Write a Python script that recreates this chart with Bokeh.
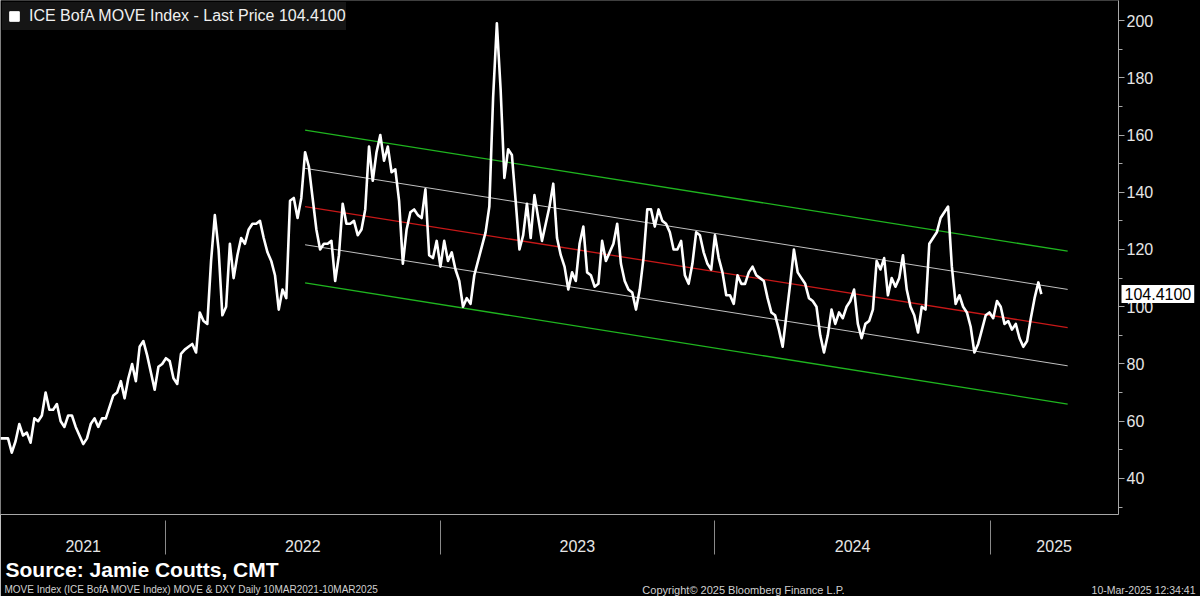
import pandas as pd
from bokeh.plotting import figure
from bokeh.models import (Range1d, LinearAxis, FixedTicker, SingleIntervalTicker,
                          Legend, LegendItem, Label)
from bokeh.embed import file_html
from bokeh.resources import INLINE

# ---------------- data ----------------
series_name = "ICE BofA MOVE Index - Last Price 104.4100"
start_date = "2021-05-26"
last_date = "2025-03-10"
last_price = 104.41

# MOVE index, one reading every 5 days
move_5d = [
    54, 54, 54, 49, 53, 59, 55, 56, 52.5, 61,
    60, 62, 70, 64, 64, 66, 60, 58, 62, 62,
    58, 55, 52, 54, 59, 61, 58, 61, 61, 65,
    69, 70, 74, 68, 75, 80, 74, 86, 88, 83,
    77, 71, 79, 80, 82, 81, 75, 73, 83.5, 85,
    86, 87, 84, 98, 95, 94, 116, 132, 120, 97,
    100, 122, 110, 118, 124, 122, 127, 129, 129, 130,
    124, 119, 116, 111, 99, 106, 103, 137, 138, 131,
    138, 154, 149, 138, 127, 120, 122, 122, 123, 109,
    118, 136, 129, 129, 130, 125, 127, 134, 156, 144,
    154, 160, 151, 156, 147, 148, 137, 115, 127, 133,
    134, 132, 131, 141, 118, 117, 123, 114, 123, 116,
    119, 113, 109, 100, 103, 101, 111, 116, 121, 126,
    135, 173, 199, 176, 145, 155, 153, 137, 120, 125,
    136, 124, 139, 131, 123, 129, 135, 143, 124, 118,
    114, 106, 112, 109, 122, 128, 112, 111, 107, 108,
    123, 116, 119, 122, 129, 115, 109, 106, 105, 99,
    106, 117, 134, 134, 128, 134, 130, 129, 126, 120,
    120, 123, 111, 108, 115, 126, 125, 119, 115, 113,
    125, 117, 112, 104, 104, 101, 111, 108, 108, 112,
    114, 111, 110, 109, 103, 98, 97, 92, 86, 97,
    108, 120, 112, 110, 108, 103, 102, 100, 90, 84,
    90, 99, 94, 98, 96, 100, 102, 106, 94, 89,
    94, 95, 99, 116, 113, 117, 104, 110, 107, 110,
    118, 106, 100, 97, 91, 100, 99, 122, 124, 126,
    131, 133, 135, 114, 101, 104, 100, 98, 93, 84,
    87, 92, 97, 98, 96, 102, 100, 94, 95, 92,
    94, 89, 86, 88, 96, 103, 108.5,
]
move_dates = list(pd.date_range(start_date, periods=len(move_5d), freq="5D")) + [pd.Timestamp(last_date)]
move_values = move_5d + [last_price]

# regression channel
channel_dates = [pd.Timestamp("2022-07-05"), pd.Timestamp("2025-04-14")]
channel_mid = [135.0, 92.7]
channel_sigma = 13.35

# axes
view_start = pd.Timestamp("2021-05-26")
view_end = pd.Timestamp("2025-06-20 14:00")
y_min, y_max = 27.4, 207.0
year_bounds = ["2022-01-01", "2023-01-01", "2024-01-01", "2025-01-01"]
year_labels = ["2021", "2022", "2023", "2024", "2025"]
year_label_pos = ["2021-09-13", "2022-07-02", "2023-07-02", "2024-07-02", "2025-03-27"]

# footer texts
source_text = "Source: Jamie Coutts, CMT"
footer_left = "MOVE Index (ICE BofA MOVE Index) MOVE & DXY  Daily 10MAR2021-10MAR2025"
footer_mid = "Copyright\u00a9 2025 Bloomberg Finance L.P."
footer_right = "10-Mar-2025 12:34:41"

FONT = "Liberation Sans"
HIDDEN_TOP = 120   # side panel above the frame that holds the free-floating labels


def ms(d):
    return int(pd.Timestamp(d).value // 10**6)


p = figure(width=1200, height=596 + HIDDEN_TOP,
           x_range=Range1d(view_start, view_end),
           y_range=Range1d(y_min, y_max),
           x_axis_location=None, y_axis_location=None,
           toolbar_location=None, output_backend="svg",
           background_fill_color="black", border_fill_color="black",
           outline_line_color=None,
           min_border_left=0, min_border_top=HIDDEN_TOP,
           min_border_right=82, min_border_bottom=82,
           margin=(-HIDDEN_TOP, 0, 0, 0))
p.xgrid.grid_line_color = None
p.ygrid.grid_line_color = None

# right axis
yaxis = LinearAxis(ticker=SingleIntervalTicker(interval=20, num_minor_ticks=2),
                   axis_line_color="#a8a8a8", axis_line_width=1,
                   major_tick_line_color="#a8a8a8", major_tick_in=0, major_tick_out=6,
                   minor_tick_line_color="#a8a8a8", minor_tick_in=0, minor_tick_out=4,
                   major_label_text_color="#e6e6e6", major_label_text_font=FONT,
                   major_label_text_font_size="16px", major_label_standoff=2)
p.add_layout(yaxis, "right")

# bottom axis: year labels centred, separators as minor ticks
xaxis = LinearAxis(ticker=FixedTicker(ticks=[ms(d) for d in year_label_pos],
                                      minor_ticks=[ms(d) for d in year_bounds]),
                   major_label_overrides={ms(d): t for d, t in zip(year_label_pos, year_labels)},
                   axis_line_color="#a8a8a8", axis_line_width=1,
                   major_tick_line_color=None, major_tick_in=0, major_tick_out=0,
                   minor_tick_line_color="#8a8a8a", minor_tick_in=-6, minor_tick_out=40,
                   major_label_text_color="#e6e6e6", major_label_text_font=FONT,
                   major_label_text_font_size="16px", major_label_standoff=-15)
p.add_layout(xaxis, "below")

# channel lines
band_styles = [(-2, "#1fb51f", 1.3), (-1, "#c0c0c0", 1.0), (0, "#c81818", 1.3),
               (1, "#c0c0c0", 1.0), (2, "#1fb51f", 1.3)]
for k, col, w in band_styles:
    p.line(x=channel_dates, y=[m + k * channel_sigma for m in channel_mid],
           line_color=col, line_width=w)

# main series
p.line(x=move_dates, y=move_values, line_color="white", line_width=2.6,
       line_join="round")

# legend (marker renderer with a single invisible point)
r_leg = p.scatter(x=[view_start], y=[float("nan")], marker="square", size=10,
                  fill_color="white", line_color="white")
legend = Legend(items=[LegendItem(label=series_name, renderers=[r_leg])],
                location="top_left", background_fill_color="#151515",
                background_fill_alpha=1.0, border_line_color=None,
                label_text_color="#f0f0f0", label_text_font=FONT,
                label_text_font_size="16px", glyph_width=24, glyph_height=28,
                label_height=28, label_standoff=3, padding=4, margin=2, spacing=0)
p.add_layout(legend)

# labels outside the frame live in the (hidden) top panel so they are not clipped
p.add_layout(Label(x=view_end, y=last_price, x_offset=3,
                   text="104.4100", text_color="black", text_font=FONT,
                   text_font_size="16px", text_baseline="middle",
                   background_fill_color="white", padding=3), "above")
p.add_layout(Label(x=view_start, y=y_min, x_offset=5, y_offset=-55,
                   text=source_text, text_color="white", text_font=FONT,
                   text_font_style="bold", text_font_size="21px",
                   text_baseline="middle"), "above")
p.add_layout(Label(x=view_start, y=y_min, x_offset=4, y_offset=-75,
                   text=footer_left, text_color="#d0d0d0", text_font=FONT,
                   text_font_size="10px", text_baseline="middle"), "above")
p.add_layout(Label(x=view_start, y=y_min, x_offset=743, y_offset=-75,
                   text=footer_mid, text_color="#d0d0d0", text_font=FONT,
                   text_font_size="11px", text_baseline="middle",
                   text_align="center"), "above")
p.add_layout(Label(x=view_start, y=y_min, x_offset=1195, y_offset=-75,
                   text=footer_right, text_color="#d0d0d0", text_font=FONT,
                   text_font_size="10.5px", text_baseline="middle",
                   text_align="right"), "above")

open("out.html", "w").write(file_html(p, INLINE))
